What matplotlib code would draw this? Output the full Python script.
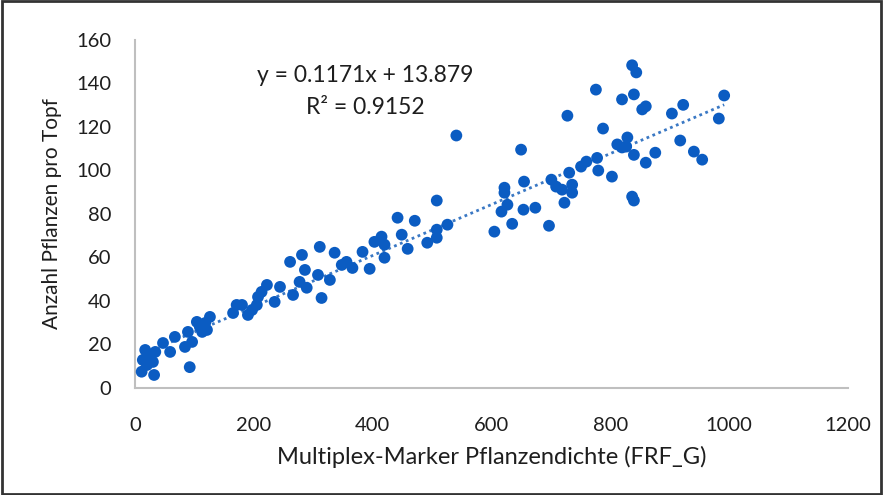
import numpy as np
import matplotlib
matplotlib.use("Agg")
import matplotlib.pyplot as plt
from matplotlib.patches import Rectangle

plt.rcParams['font.family'] = ['Lato', 'DejaVu Sans']

# marker density (FRF_G) and plants per pot
frf_g = [11, 32, 17, 13, 25, 34, 30, 47, 59, 67, 84, 89, 92, 96, 104, 109, 113, 118, 126, 121,
         171, 165, 190, 207, 213, 205, 197, 222, 180, 20,
         235, 244, 261, 266, 281, 277, 286, 289, 311, 308, 314, 328, 336, 348, 356, 366, 383, 395,
         403, 415, 420, 420, 442,
         449, 459, 471, 492, 508, 508, 508, 526, 541, 605, 617, 627, 622, 622, 635, 654, 655, 674, 650,
         697, 701, 709, 719, 723, 731, 736, 728,
         776, 820, 840, 854, 860, 788, 736, 751, 760, 778, 780, 803, 812, 820, 829, 840, 860, 837, 840,
         827, 876, 918, 941, 837, 844, 904, 923, 992, 983, 955]
pflanzen = [7.3, 5.8, 17.3, 12.7, 14, 16.4, 11.8, 20.5, 16.4, 23.3, 18.7, 25.6, 9.4, 21, 30.2, 27.9, 25.6, 29.7, 32.5, 26.5,
            38, 34.3, 33.4, 41.7, 44, 38, 35.7, 47.2, 38, 10.4,
            39.4, 46.3, 57.8, 42.6, 61, 48.6, 54.1, 45.9, 64.7, 51.8, 41.2, 49.5, 62, 56.4, 57.8, 55, 62.4, 54.6,
            67, 69.4, 65.7, 59.7, 78.1,
            70.3, 63.8, 76.7, 66.6, 72.6, 68.9, 86, 74.9, 115.9, 71.7, 80.9, 84.1, 91.9, 89.6, 75.3, 81.8, 94.7, 82.7, 109.4,
            74.4, 95.6, 92.4, 91, 85, 98.8, 89.6, 125,
            137, 132.5, 134.8, 127.9, 129.3, 119.1, 93.3, 101.6, 103.9, 105.6, 99.8, 97, 111.8, 110.4, 115, 107, 103.4, 87.8, 86,
            110.8, 108, 113.6, 108.5, 148.2, 144.9, 126, 130, 134.3, 123.7, 104.8]

slope = 0.1171
intercept = 13.879
r2 = 0.9152

blue = '#0B5CC2'
txt = '#1E1E1E'

fig = plt.figure(figsize=(8.83, 4.95), dpi=100)
ax = fig.add_axes([0.153, 0.217, 0.807, 0.703])

ax.scatter(frf_g, pflanzen, s=72, color=blue, edgecolors='none', zorder=3)

xl = np.array([min(frf_g), max(frf_g)])
ax.plot(xl, slope * xl + intercept, color='#3A78C4', linestyle=(0, (1, 1.3)), linewidth=2, zorder=2)

ax.text(387, 143.5, 'y = %.4fx + %.3f' % (slope, intercept), ha='center', va='center', fontsize=16.5, color=txt)
ax.text(387, 128.8, 'R² = %.4f' % r2, ha='center', va='center', fontsize=16.5, color=txt)

ax.set_xlim(0, 1200)
ax.set_ylim(0, 160)
ax.set_xticks(range(0, 1201, 200))
ax.set_yticks(range(0, 161, 20))
ax.tick_params(length=0, labelsize=14.5, colors=txt)
ax.tick_params(axis='x', pad=21)
ax.tick_params(axis='y', pad=17)

for s in ['top', 'right']:
    ax.spines[s].set_visible(False)
for s in ['left', 'bottom']:
    ax.spines[s].set_color('#BFBFBF')
    ax.spines[s].set_linewidth(1.5)

ax.set_xlabel('Multiplex-Marker Pflanzendichte (FRF_G)', fontsize=17, color=txt, labelpad=9)
ax.set_ylabel('Anzahl Pflanzen pro Topf', fontsize=15, color=txt, labelpad=10)

fig.patches.append(Rectangle((0.002, 0.003), 0.996, 0.994, transform=fig.transFigure,
                             fill=False, edgecolor='#333333', linewidth=2))

fig.savefig('out.png', dpi=100)
